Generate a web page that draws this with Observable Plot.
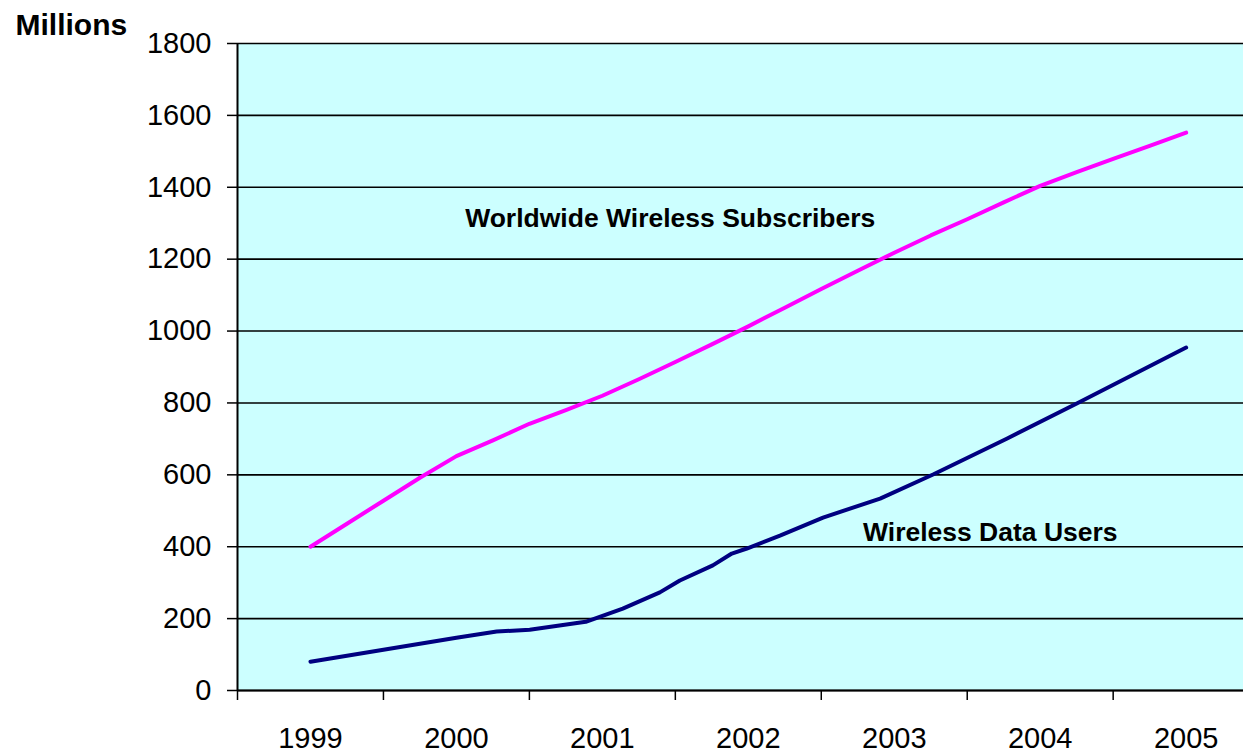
<!DOCTYPE html>
<html><head><meta charset="utf-8">
<script src="https://cdn.jsdelivr.net/npm/d3@7"></script>
<script src="https://cdn.jsdelivr.net/npm/@observablehq/plot@0.6"></script>
<style>
body{margin:0;background:#fff;}
#chart{width:1243px;height:755px;}
</style>
</head><body><div id="chart"></div>
<script>
// Category labels (years)
const years = [1999, 2000, 2001, 2002, 2003, 2004, 2005];
// Category boundary tick marks
const boundaryTicks = [1998.5, 1999.5, 2000.5, 2001.5, 2002.5, 2003.5, 2004.5];
// Y ticks
const yTicks = [0, 200, 400, 600, 800, 1000, 1200, 1400, 1600, 1800];

// Worldwide Wireless Subscribers (millions), quarterly
const subsX = [1999, 1999.25, 1999.5, 1999.75, 2000, 2000.25, 2000.5, 2000.75, 2001, 2001.25, 2001.5, 2001.75,
               2002, 2002.25, 2002.5, 2002.75, 2003, 2003.25, 2003.5, 2003.75, 2004, 2004.25, 2004.5, 2004.75, 2005];
const subsY = [400, 464, 528, 592, 652, 696, 742, 780, 820, 866, 914, 963,
               1013, 1065, 1117, 1168, 1218, 1266, 1311, 1358, 1404, 1442, 1479, 1515, 1552];

// Wireless Data Users (millions)
const dataX = [1999, 2000, 2000.276, 2000.502, 2000.886, 2001.14, 2001.394, 2001.531, 2001.757, 2001.887,
               2001.99, 2002.217, 2002.512, 2002.903, 2003.266, 2003.774, 2004.254, 2005];
const dataY = [80, 147, 164, 169, 191, 228, 273, 306, 348, 381,
               395, 431, 481, 534, 601, 701, 799, 954];

// Series labels
const labelText = ["Worldwide Wireless Subscribers", "Wireless Data Users"];
const labelX = [2001.465, 2003.658];
const labelY = [1313, 440];

const subs = subsX.map((x, i) => ({x, y: subsY[i]}));
const users = dataX.map((x, i) => ({x, y: dataY[i]}));
const labels = labelText.map((t, i) => ({t, x: labelX[i], y: labelY[i]}));

const font = "'Liberation Sans', Arial, sans-serif";

const chart = Plot.plot({
  width: 1243,
  height: 755,
  marginLeft: 237,
  marginRight: 0,
  marginTop: 43,
  marginBottom: 65,
  style: {fontFamily: font, background: "#fff", color: "#000"},
  x: {type: "linear", domain: [1998.5, 2005.393]},
  y: {domain: [0, 1800]},
  marks: [
    Plot.frame({fill: "#CCFFFF", stroke: null}),
    Plot.ruleY(yTicks, {stroke: "#000", strokeWidth: 1.6}),
    Plot.ruleX([1998.5], {stroke: "#000", strokeWidth: 2}),
    Plot.ruleY([0], {stroke: "#000", strokeWidth: 2}),
    Plot.axisY({ticks: yTicks, tickSize: 10, tickPadding: 16, fontSize: 29, label: null, tickFormat: d => String(d), stroke: "#000", strokeWidth: 1.5}),
    Plot.axisX({ticks: boundaryTicks, tickSize: 10, tickFormat: () => "", label: null, stroke: "#000", strokeWidth: 1.5}),
    Plot.axisX({ticks: years, tickSize: 0, tickPadding: 37, fontSize: 29, tickFormat: d => String(d), label: null}),
    Plot.line(subs, {x: "x", y: "y", stroke: "#FF00FF", strokeWidth: 4}),
    Plot.line(users, {x: "x", y: "y", stroke: "#000080", strokeWidth: 4}),
    Plot.text(labels, {x: "x", y: "y", text: "t", fontSize: 26.5, fontWeight: "bold", fill: "#000"}),
    Plot.text(["Millions"], {frameAnchor: "top-left", dx: -222, dy: -9, lineAnchor: "bottom", textAnchor: "start", fontSize: 30, fontWeight: "bold", fill: "#000"})
  ]
});
document.getElementById("chart").appendChild(chart);
</script>
</body></html>
